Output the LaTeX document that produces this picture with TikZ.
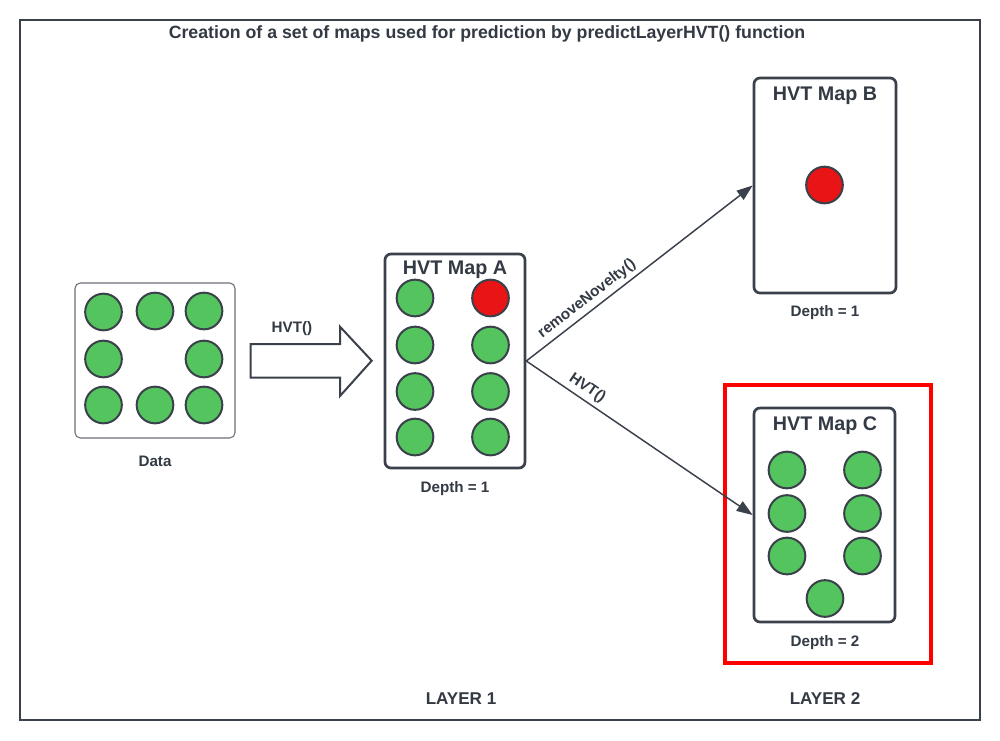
\documentclass[tikz,border=0pt]{standalone}
\usepackage{fontspec}
\setmainfont{Liberation Sans}
\usetikzlibrary{arrows.meta}
\definecolor{ink}{HTML}{3A414A}
\definecolor{txt}{HTML}{333A44}
\definecolor{softline}{HTML}{6B7078}
\definecolor{dotgreen}{HTML}{54C45E}
\definecolor{dotred}{HTML}{E81416}
\definecolor{hl}{HTML}{FF0000}
\begin{document}
\begin{tikzpicture}[x=0.75pt,y=-0.75pt,
 dot/.style={circle,draw=ink,line width=1.5pt,fill=dotgreen,minimum size=27.5pt,inner sep=0pt},
 reddot/.style={dot,fill=dotred},
 mapbox/.style={draw=ink,line width=2pt,rounded corners=4.5pt,inner sep=0pt},
 lbl/.style={text=txt,font=\bfseries\fontsize{11.4}{13}\selectfont,inner sep=1pt},
 titlelbl/.style={text=txt,font=\bfseries\fontsize{13.3}{15}\selectfont,inner sep=1pt},
 layerlbl/.style={text=txt,font=\bfseries\fontsize{12.8}{15}\selectfont},
 maptitle/.style={text=txt,font=\bfseries\fontsize{14.8}{17}\selectfont,inner sep=0pt},
 conn/.style={draw=ink,line width=1.1pt,-{Triangle[length=12pt,width=8.5pt]}},
]
\fill[white] (0,0) rectangle (1000,740);
\useasboundingbox (0,0) rectangle (1000,740);
\draw[ink,line width=1.1pt] (20,20) rectangle (980,720);

\node[titlelbl] (title) at (487,34) {Creation of a set of maps used for prediction by predictLayerHVT() function};

% Data
\node[draw=softline,line width=0.8pt,rounded corners=4pt,minimum width=120pt,minimum height=116.25pt,inner sep=0pt] (data) at (155,360.5) {};
\node[dot] (d1) at (103.5,312) {};
\node[dot] (d2) at (155,311) {};
\node[dot] (d3) at (204,311) {};
\node[dot] (d4) at (103.5,359) {};
\node[dot] (d5) at (204,359) {};
\node[dot] (d6) at (103.5,405) {};
\node[dot] (d7) at (155,405) {};
\node[dot] (d8) at (204,405) {};
\node[lbl] (datalbl) at (155,461) {Data};

% block arrow
\draw[ink,line width=1.5pt,fill=white,line join=miter] (250.7,344) -- (340,344) -- (340,326.7) -- (371.7,360.7) -- (340,396) -- (340,377.7) -- (250.7,377.7) -- cycle;
\node[lbl] (hvtlbl) at (292,329) {HVT()};

% Map A
\node[mapbox,minimum width=105pt,minimum height=160.5pt] (mapA) at (455,361) {};
\node[maptitle] (mapAt) at (455,270) {HVT Map A};
\node[dot] (a1) at (415,298) {};
\node[reddot] (a2) at (490.5,298) {};
\node[dot] (a3) at (415,345) {};
\node[dot] (a4) at (490.5,345) {};
\node[dot] (a5) at (415,391.5) {};
\node[dot] (a6) at (490.5,391.5) {};
\node[dot] (a7) at (415,437) {};
\node[dot] (a8) at (490.5,437) {};
\node[lbl] (depthA) at (455,488.5) {Depth = 1};

% Map B
\node[mapbox,minimum width=106.5pt,minimum height=161.25pt] (mapB) at (825,185.5) {};
\node[maptitle] (mapBt) at (825,95.5) {HVT Map B};
\node[reddot] (b1) at (824.5,185) {};
\node[lbl] (depthB) at (825,312.5) {Depth = 1};

% Map C
\node[mapbox,minimum width=105.75pt,minimum height=160.5pt] (mapC) at (824.5,515) {};
\node[maptitle] (mapCt) at (825,425.5) {HVT Map C};
\node[dot] (c1) at (787,470) {};
\node[dot] (c2) at (862.5,470) {};
\node[dot] (c3) at (787,513.5) {};
\node[dot] (c4) at (862.5,513.5) {};
\node[dot] (c5) at (787,556) {};
\node[dot] (c6) at (862.5,556) {};
\node[dot] (c7) at (825,598.5) {};
\node[lbl] (depthC) at (825,642.5) {Depth = 2};

% highlight
\node[draw=hl,line width=3pt,minimum width=154.5pt,minimum height=208.5pt,inner sep=0pt] (hlbox) at (828,524) {};

% connectors
\draw[conn] (mapA.east) -- node[lbl,sloped,above,pos=0.3,inner sep=3pt] {removeNovelty()} (mapB.west);
\draw[conn] (mapA.east) -- node[lbl,sloped,above,pos=0.24,inner sep=3pt] {HVT()} (mapC.west);

\node[layerlbl] (layer1) at (461,699) {LAYER 1};
\node[layerlbl] (layer2) at (825,699) {LAYER 2};
\end{tikzpicture}
\end{document}
